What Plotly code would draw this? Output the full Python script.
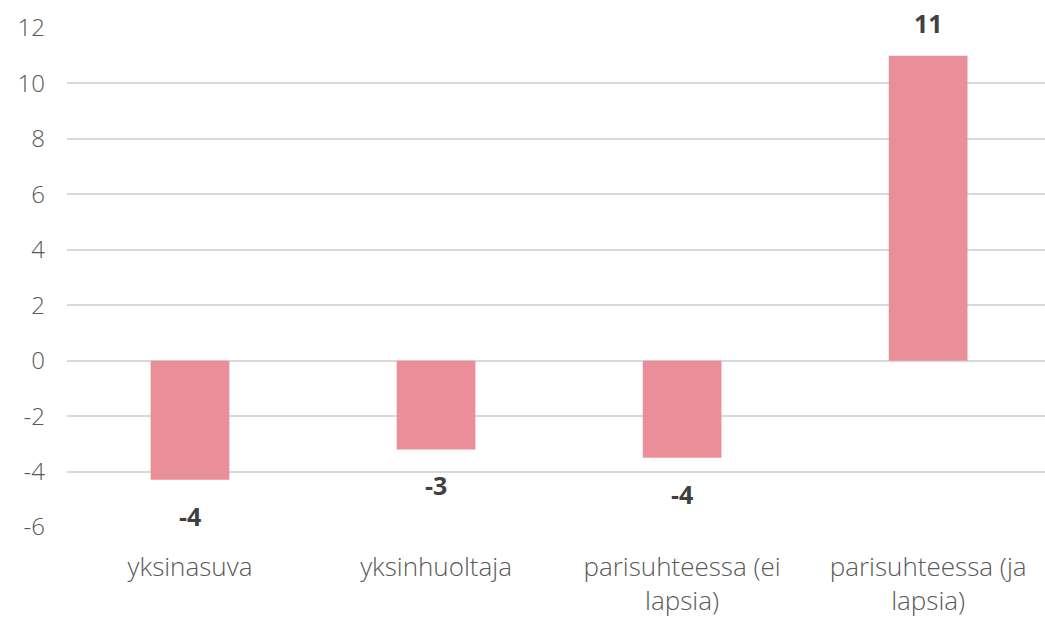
import plotly.graph_objects as go

categories = ["yksinasuva", "yksinhuoltaja", "parisuhteessa (ei<br>lapsia)", "parisuhteessa (ja<br>lapsia)"]
values = [-4.3, -3.2, -3.5, 11.0]
labels = [f"{round(v):d}" for v in values]
y_ticks = [-6, -4, -2, 0, 2, 4, 6, 8, 10, 12]
y_tick_text = [str(t) for t in y_ticks]

FONT = "Open Sans"

fig = go.Figure(go.Bar(
    x=categories, y=values,
    marker=dict(color="#EA8F99", line=dict(width=0)),
    width=0.32,
))

for c, v, t in zip(categories, values, labels):
    fig.add_annotation(
        x=c, y=v, text=t, showarrow=False,
        yanchor="middle", yshift=33 if v >= 0 else -36,
        font=dict(family=FONT, size=25, color="#404040", weight="bold"),
    )

fig.update_layout(
    width=1045, height=621,
    margin=dict(l=67, r=0, t=28, b=94),
    paper_bgcolor="white", plot_bgcolor="white",
    font=dict(family=FONT, color="#595959", weight=300),
    showlegend=False,
)
fig.update_xaxes(range=[-0.5, 3.475], showgrid=False, showline=False, ticks="",
                 tickfont=dict(family=FONT, size=26, color="#595959", weight=300),
                 zeroline=False, automargin=False, ticklabelstandoff=22)
fig.update_yaxes(range=[-6, 12], tickvals=y_ticks, ticktext=y_tick_text,
                 showgrid=True, gridcolor="#D9D9D9", gridwidth=1.5,
                 zeroline=False, showline=False, ticks="", automargin=False,
                 tickfont=dict(family=FONT, size=24, color="#595959", weight=300),
                 ticklabelstandoff=21)

fig.write_html("out.html", post_script="document.body.style.margin='0';",
               config={"displayModeBar": False})
